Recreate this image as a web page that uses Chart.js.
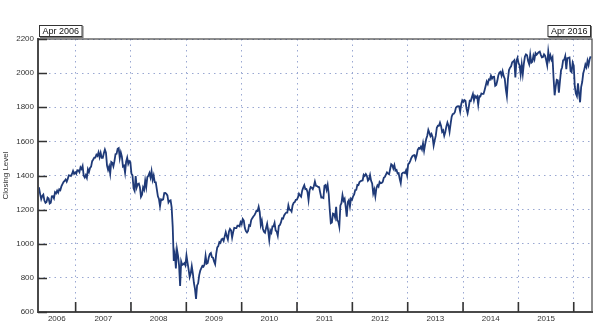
<!DOCTYPE html>
<html>
<head>
<meta charset="utf-8">
<script src="https://cdn.jsdelivr.net/npm/chart.js@4.4.1/dist/chart.umd.min.js"></script>
<style>
  html, body { margin: 0; padding: 0; background: #fff; }
  canvas { display: block; }
</style>
</head>
<body>
<canvas id="closing" width="606" height="330"></canvas>
<script>
// weekly closing levels, one value per Friday, first week ends 28 Apr 2006
const close2006 = [1322,
  1325, 1291, 1262, 1280,
  1288, 1253, 1240, 1245, 1270,
  1265, 1236, 1240, 1278,
  1279, 1266, 1302, 1295,
  1311, 1299, 1319, 1314, 1336,
  1350, 1362, 1368, 1377,
  1364, 1380, 1401, 1400,
  1397, 1409, 1427, 1410, 1418];
const close2007 = [1410, 1431, 1430, 1420,
  1448, 1438, 1456, 1400,
  1388, 1402, 1386, 1436, 1421,
  1444, 1452, 1484, 1494,
  1505, 1505, 1522, 1515,
  1536, 1507, 1533, 1503, 1503,
  1530, 1552, 1534, 1458,
  1433, 1453, 1411, 1479, 1474,
  1454, 1484, 1525, 1527,
  1557, 1561, 1501, 1535,
  1510, 1453, 1458, 1417, 1481,
  1504, 1468, 1484, 1478];
const close2008 = [1411, 1401, 1325, 1310,
  1396, 1331, 1350, 1353, 1331,
  1275, 1288, 1330, 1316,
  1370, 1332, 1390, 1398,
  1414, 1388, 1426, 1375, 1400,
  1361, 1360, 1318, 1278,
  1262, 1220, 1260, 1257,
  1260, 1297, 1298, 1292, 1283,
  1242, 1252, 1255, 1213,
  1099, 899, 940, 855, 968,
  930, 873, 752, 896,
  876, 880, 887, 873];
const close2009 = [932, 890, 850, 805, 826,
  869, 827, 770, 735,
  677, 756, 768, 816,
  843, 857, 870, 866,
  878, 929, 883, 887, 919,
  940, 946, 921, 918,
  896, 880, 941, 979, 987,
  1010, 1005, 1026, 1029,
  1017, 1043, 1068, 1044,
  1025, 1071, 1087, 1079, 1036,
  1069, 1093, 1091, 1091,
  1106, 1106, 1102, 1126];
const close2010 = [1115, 1145, 1136, 1092, 1074,
  1066, 1075, 1109, 1105,
  1139, 1150, 1160, 1167,
  1179, 1194, 1192, 1217, 1187,
  1111, 1136, 1088, 1071,
  1065, 1092, 1117, 1076,
  1022, 1078, 1065, 1102, 1102,
  1122, 1079, 1071, 1047,
  1104, 1110, 1125, 1149,
  1147, 1166, 1176, 1183, 1183,
  1225, 1200, 1199, 1189,
  1225, 1240, 1244, 1257, 1258];
const close2011 = [1271, 1293, 1283, 1276,
  1311, 1329, 1343, 1320,
  1321, 1304, 1256, 1314,
  1332, 1328, 1320, 1337, 1364,
  1340, 1338, 1333, 1331,
  1300, 1271, 1271, 1268,
  1340, 1344, 1316, 1345, 1292,
  1199, 1120, 1124, 1177,
  1174, 1154, 1216, 1136, 1131,
  1100, 1225, 1238, 1285,
  1253, 1264, 1216, 1159,
  1244, 1255, 1219, 1265, 1258];
const close2012 = [1278, 1289, 1315, 1316,
  1345, 1343, 1361, 1366,
  1370, 1371, 1404, 1397, 1408,
  1398, 1370, 1378, 1403,
  1369, 1353, 1295, 1318,
  1278, 1326, 1343, 1335, 1362,
  1355, 1357, 1363, 1386,
  1391, 1405, 1418, 1411, 1407,
  1438, 1466, 1460, 1441,
  1461, 1429, 1433, 1412,
  1414, 1380, 1355, 1409, 1416,
  1418, 1414, 1430, 1402];
const close2013 = [1466, 1472, 1486, 1503,
  1513, 1518, 1520, 1496,
  1518, 1551, 1561, 1556, 1569,
  1553, 1588, 1545, 1582,
  1614, 1633, 1667, 1650, 1631,
  1643, 1626, 1575, 1606,
  1632, 1680, 1692, 1691,
  1710, 1691, 1656, 1664, 1633,
  1655, 1688, 1710, 1692,
  1656, 1703, 1745, 1760,
  1762, 1771, 1798, 1804, 1806,
  1805, 1775, 1818, 1841];
const close2014 = [1832, 1842, 1838, 1790, 1765,
  1797, 1838, 1836, 1859,
  1878, 1841, 1866, 1857,
  1865, 1815, 1864, 1863,
  1881, 1878, 1878, 1900, 1924,
  1950, 1936, 1963, 1961,
  1985, 1968, 1978, 1979,
  1926, 1931, 1955, 1988, 2003,
  2008, 1985, 2011, 1982,
  1967, 1906, 1865, 1965, 2018,
  2032, 2040, 2064, 2068,
  2075, 1975, 2071, 2089];
const close2015 = [2058, 2045, 1992, 2051, 1995,
  2055, 2097, 2110, 2105,
  2071, 2053, 2108, 2061,
  2067, 2102, 2081, 2117,
  2108, 2116, 2122, 2126, 2107,
  2092, 2094, 2110, 2102,
  2077, 2046, 2127, 2080, 2104,
  2078, 2092, 1971, 1870,
  1921, 1961, 1958, 1885,
  1951, 2015, 2033, 2075, 2079,
  2100, 2023, 2089, 2090,
  2092, 2012, 2006, 2061];
const close2016 = [2044, 1922, 1880, 1865, 1940,
  1880, 1829, 1918, 1948,
  1999, 2022, 2050, 2035,
  2073, 2048, 2081, 2098];

const firstWeek = Date.UTC(2006, 3, 28);
const yTicks = [600, 800, 1000, 1200, 1400, 1600, 1800, 2000, 2200];
const rangeLabels = ['Apr 2006', 'Apr 2016'];

const closes = [].concat(close2006, close2007, close2008, close2009, close2010,
  close2011, close2012, close2013, close2014, close2015, close2016);

// fractional year of a timestamp, so the x axis can be linear
function toYear(ms) {
  const y = new Date(ms).getUTCFullYear();
  const s = Date.UTC(y, 0, 1), e = Date.UTC(y + 1, 0, 1);
  return y + (ms - s) / (e - s);
}

const points = closes.map((v, i) => ({ x: toYear(firstWeek + i * 7 * 864e5), y: v }));
const xMin = 2006.32, xMax = 2016.33;

const gridBlue = '#9aa8d2';
const tickFont = { family: 'Liberation Sans', size: 8 };

const framePlugin = {
  id: 'frame',
  afterDraw(chart) {
    const { ctx, chartArea: a, scales } = chart;
    ctx.save();
    ctx.strokeStyle = '#444';
    ctx.lineWidth = 1.2;
    ctx.strokeRect(a.left, a.top, a.right - a.left, a.bottom - a.top);

    // heavier left and bottom axes
    ctx.lineWidth = 2;
    ctx.strokeStyle = '#4a4a4a';
    ctx.beginPath();
    ctx.moveTo(a.left, a.top - 1);
    ctx.lineTo(a.left, a.bottom);
    ctx.lineTo(a.right + 1, a.bottom);
    ctx.stroke();

    // tick marks pointing into the plot
    ctx.lineWidth = 1.6;
    ctx.strokeStyle = '#333';
    ctx.beginPath();
    scales.y.ticks.forEach(t => {
      const y = Math.round(scales.y.getPixelForValue(t.value)) + 0.5;
      ctx.moveTo(a.left, y);
      ctx.lineTo(a.left + 9, y);
    });
    scales.x.ticks.filter(t => Number.isInteger(t.value)).forEach(t => {
      const x = scales.x.getPixelForValue(t.value);
      ctx.moveTo(x, a.bottom);
      ctx.lineTo(x, a.bottom - 10);
    });
    ctx.stroke();

    // start / end date boxes above the plot
    ctx.font = '9px "Liberation Sans"';
    ctx.textBaseline = 'middle';
    rangeLabels.forEach((txt, i) => {
      const w = ctx.measureText(txt).width + 7;
      const h = 12;
      const x = i === 0 ? a.left + 1 : a.right - 1 - w;
      const y = a.top - 14;
      ctx.fillStyle = '#777';
      ctx.fillRect(x + 1, y + 1, w, h);
      ctx.fillStyle = '#fff';
      ctx.fillRect(x, y, w, h);
      ctx.lineWidth = 1;
      ctx.strokeStyle = '#333';
      ctx.strokeRect(x + 0.5, y + 0.5, w - 1, h - 1);
      ctx.fillStyle = '#111';
      ctx.textAlign = 'left';
      ctx.fillText(txt, x + 3.5, y + h / 2 + 0.5);
    });
    ctx.restore();
  }
};

new Chart(document.getElementById('closing'), {
  type: 'line',
  data: {
    datasets: [{
      data: points,
      borderColor: '#1f3a78',
      borderWidth: 1.8,
      pointRadius: 0,
      tension: 0
    }]
  },
  options: {
    responsive: false,
    animation: false,
    devicePixelRatio: 1,
    layout: { padding: { top: 39, right: 14, left: 0, bottom: 0 } },
    plugins: { legend: { display: false }, tooltip: { enabled: false } },
    scales: {
      x: {
        type: 'linear',
        min: xMin,
        max: xMax,
        afterBuildTicks(scale) {
          const ticks = [];
          for (let yr = 2006; yr <= 2016; yr++) {
            if (yr > xMin && yr < xMax) ticks.push({ value: yr });
            const lo = Math.max(yr, xMin), hi = Math.min(yr + 1, xMax);
            if (hi - lo > 0.5) ticks.push({ value: (lo + hi) / 2, year: yr });
          }
          ticks.sort((p, q) => p.value - q.value);
          scale.ticks = ticks;
        },
        afterFit(scale) { scale.height = 18; },
        ticks: {
          autoSkip: false,
          maxRotation: 0,
          padding: 2,
          color: '#333',
          font: tickFont,
          callback(value) {
            return Number.isInteger(value) ? '' : String(Math.floor(value));
          }
        },
        grid: {
          drawTicks: false,
          lineWidth: 1,
          color: ctx => (ctx.tick && Number.isInteger(ctx.tick.value)) ? gridBlue : 'rgba(0,0,0,0)'
        },
        border: { display: false, dash: [1.5, 4] }
      },
      y: {
        min: 600,
        max: 2200,
        afterBuildTicks(scale) { scale.ticks = yTicks.map(v => ({ value: v })); },
        afterFit(scale) { scale.width = 38; },
        ticks: {
          padding: 4,
          color: '#333',
          font: tickFont,
          callback: value => String(value)
        },
        grid: { drawTicks: false, color: gridBlue, lineWidth: 1 },
        border: { display: false, dash: [1.5, 4] },
        title: {
          display: true,
          text: 'Closing Level',
          color: '#333',
          font: tickFont,
          padding: { top: 1, bottom: 0 }
        }
      }
    }
  },
  plugins: [framePlugin]
});
</script>
</body>
</html>
